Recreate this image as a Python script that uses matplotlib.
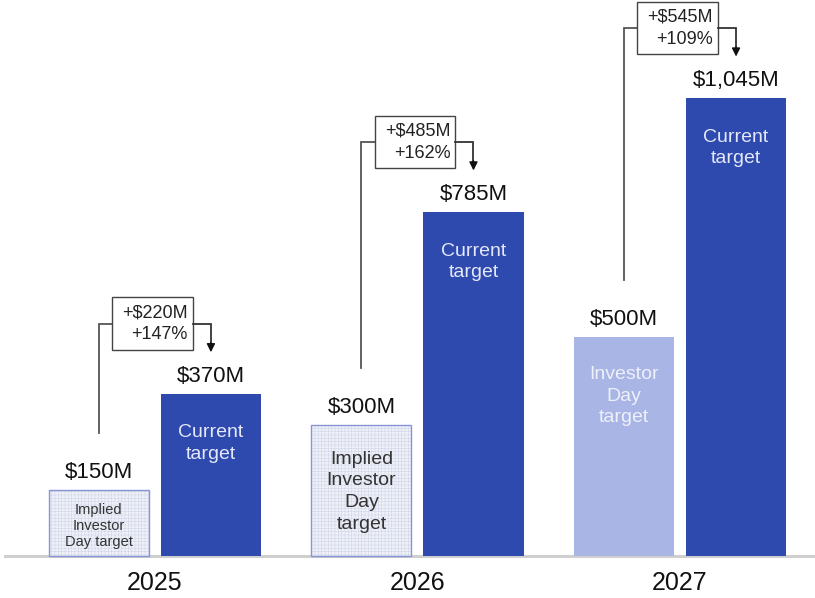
import matplotlib
matplotlib.use("Agg")
import matplotlib.pyplot as plt
from matplotlib.patches import Rectangle

plt.rcParams["font.family"] = ["Liberation Sans", "DejaVu Sans"]
plt.rcParams["hatch.linewidth"] = 0.3

years = ["2025", "2026", "2027"]
investor_day = [150, 300, 500]
current = [370, 785, 1045]
investor_labels = ["Implied\nInvestor\nDay target", "Implied\nInvestor\nDay\ntarget", "Investor\nDay\ntarget"]
current_label = "Current\ntarget"
delta_abs = ["+$220M", "+$485M", "+$545M"]
delta_pct = ["+147%", "+162%", "+109%"]
value_labels_inv = ["$150M", "$300M", "$500M"]
value_labels_cur = ["$370M", "$785M", "$1,045M"]

DARK = "#2f4aae"
LIGHT = "#a8b5e5"
PALE = "#eef0f8"
PALE_HATCH = "#c9cee4"
PALE_EDGE = "#8795d4"

fig = plt.figure(figsize=(8.15, 5.98), dpi=100)
ax = fig.add_axes([0, 0, 1, 1])
ax.set_xlim(-0.590, 2.514)
ax.set_ylim(-96, 1269)
ax.axis("off")

w = 0.381
off = 0.2133
x = list(range(len(years)))

for i in x:
    xl = i - off
    xr = i + off
    # Investor Day bar
    if i < 2:
        ax.bar(xl, investor_day[i], width=w, color=PALE, edgecolor=PALE_HATCH,
               linewidth=0, hatch="+++++", zorder=2)
        ax.bar(xl, investor_day[i], width=w, color="none", edgecolor=PALE_EDGE,
               linewidth=1.0, zorder=3)
        tc = "#333333"
        fs = 10.5 if i == 0 else 14
        ls = 1.2 if i == 0 else 1.35
        dy = -9 if i == 0 else -19
    else:
        ax.bar(xl, investor_day[i], width=w, color=LIGHT, edgecolor="none", zorder=2)
        tc = "#eef0fa"
        fs = 14
        ls = 1.35
        dy = -21
    ax.annotate(investor_labels[i], (xl, investor_day[i]), xytext=(0, dy),
                textcoords="offset points", ha="center", va="top", fontsize=fs,
                color=tc, linespacing=ls, zorder=4)
    ax.annotate(value_labels_inv[i], (xl, investor_day[i]), xytext=(0, 5),
                textcoords="offset points", ha="center", va="bottom",
                fontsize=16, color="#111111")

    # Current target bar
    ax.bar(xr, current[i], width=w, color=DARK, edgecolor="none", zorder=2)
    ax.annotate(current_label, (xr, current[i]), xytext=(0, -22),
                textcoords="offset points", ha="center", va="top", fontsize=14,
                color="#e4e8f8", linespacing=1.35, zorder=4)
    ax.annotate(value_labels_cur[i], (xr, current[i]), xytext=(0, 5),
                textcoords="offset points", ha="center", va="bottom",
                fontsize=16, color="#111111")

    # Change bracket: line up from Investor Day bar, box, arrow down to current bar
    level = current[i] + 160
    y_low = investor_day[i] + 130
    tip = current[i] + 95
    bl = xl + 0.05
    br = xr - 0.07
    half_h = 60
    ax.plot([xl, xl, bl], [y_low, level, level], color="#555555", lw=1.3,
            solid_joinstyle="miter", zorder=3)
    ax.add_patch(Rectangle((bl, level - half_h), br - bl, 2 * half_h,
                           facecolor="white", edgecolor="#444444", lw=1.0, zorder=3))
    ax.plot([br, xr, xr], [level, level, tip + 20], color="#333333", lw=1.3,
            solid_joinstyle="miter", zorder=3)
    ax.annotate("", xy=(xr, tip), xytext=(xr, tip + 22),
                arrowprops=dict(arrowstyle="-|>,head_length=0.5,head_width=0.25",
                                color="#111111", lw=1.0, shrinkA=0, shrinkB=0))
    ax.text(br - 0.018, level, delta_abs[i] + "\n" + delta_pct[i], ha="right",
            va="center", fontsize=13, color="#222222", linespacing=1.4, zorder=4)

    ax.text(i, -62, years[i], ha="center", va="center", fontsize=18,
            color="#111111")

# Baseline
ax.plot([-0.57, 2.52], [0, 0], color="#cfcfcf", lw=2.2, zorder=1)

fig.savefig("out.png", dpi=100)
